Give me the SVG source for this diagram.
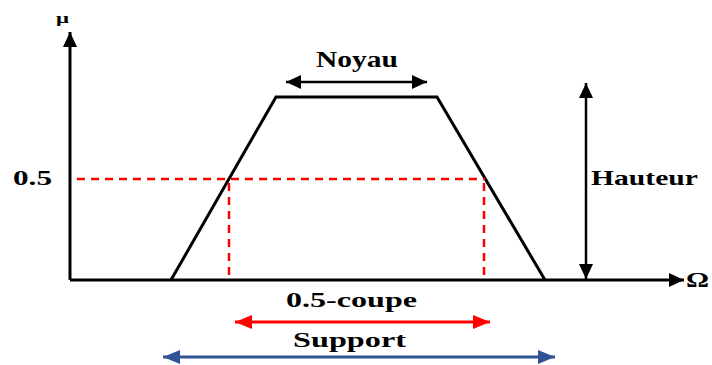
<svg xmlns="http://www.w3.org/2000/svg" width="712" height="365" viewBox="0 0 712 365">
<style>
.t{font-family:"Liberation Serif","Times New Roman",serif;font-weight:bold;fill:#000;}
.ln{stroke:#000;stroke-width:3;fill:none;}
.dash{stroke:#FF0000;stroke-width:2.5;stroke-dasharray:8,6;fill:none;}
</style>
<defs>
<marker id="ab" markerUnits="userSpaceOnUse" markerWidth="16" markerHeight="14" refX="15" refY="7" orient="auto-start-reverse"><path d="M0,0 L15,7 L0,14 Z" fill="#000"/></marker>
<marker id="ar" markerUnits="userSpaceOnUse" markerWidth="18" markerHeight="14" refX="17" refY="7" orient="auto-start-reverse"><path d="M0,0 L17,7 L0,14 Z" fill="#FF0000"/></marker>
<marker id="au" markerUnits="userSpaceOnUse" markerWidth="18" markerHeight="14" refX="17" refY="7" orient="auto-start-reverse"><path d="M0,0 L17,7 L0,14 Z" fill="#2F5496"/></marker>
</defs>
<rect width="712" height="365" fill="#fff"/>
<g id="connectors">
<line class="ln" x1="70" y1="280" x2="70" y2="32" marker-end="url(#ab)"/>
<line class="ln" x1="70" y1="280" x2="684" y2="280" marker-end="url(#ab)"/>
<polyline class="ln" points="171,280 276,97 437,97 545,280"/>
<line class="dash" x1="77" y1="179" x2="485" y2="179"/>
<line class="dash" x1="229" y1="183" x2="229" y2="279"/>
<line class="dash" x1="484" y1="183" x2="484" y2="279"/>
<line stroke="#000" stroke-width="2.5" x1="286" y1="82" x2="427" y2="82" marker-start="url(#ab)" marker-end="url(#ab)"/>
<line stroke="#000" stroke-width="2.5" x1="586" y1="83" x2="586" y2="279" marker-start="url(#ab)" marker-end="url(#ab)"/>
<line stroke="#FF0000" stroke-width="3" x1="235" y1="322" x2="490" y2="322" marker-start="url(#ar)" marker-end="url(#ar)"/>
<line stroke="#2F5496" stroke-width="3" x1="163" y1="357" x2="555" y2="357" marker-start="url(#au)" marker-end="url(#au)"/>
</g>
<g id="labels">
<text class="t" x="56" y="23" font-size="15" textLength="13" lengthAdjust="spacingAndGlyphs">μ</text>
<text class="t" x="13" y="185" font-size="21" textLength="39" lengthAdjust="spacingAndGlyphs">0.5</text>
<text class="t" x="316" y="67" font-size="24" textLength="82" lengthAdjust="spacingAndGlyphs">Noyau</text>
<text class="t" x="591" y="185" font-size="22" textLength="107" lengthAdjust="spacingAndGlyphs">Hauteur</text>
<text class="t" x="286" y="307" font-size="22" textLength="131" lengthAdjust="spacingAndGlyphs">0.5-coupe</text>
<text class="t" x="293" y="347" font-size="22" textLength="113" lengthAdjust="spacingAndGlyphs">Support</text>
<text class="t" x="686" y="287" font-size="20" textLength="23" lengthAdjust="spacingAndGlyphs">Ω</text>
</g>
</svg>
